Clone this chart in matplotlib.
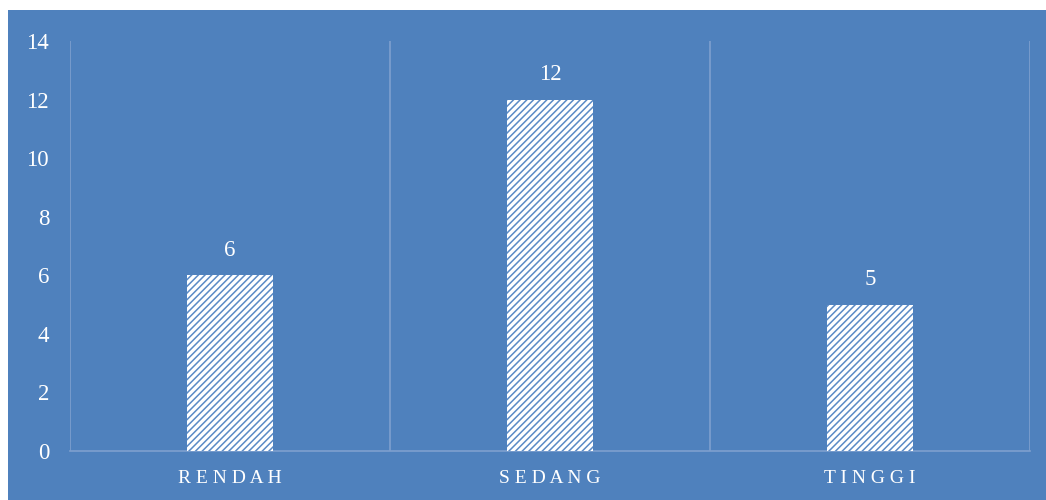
import matplotlib
matplotlib.use("Agg")
import matplotlib.pyplot as plt
from matplotlib.patches import Rectangle

categories = ["RENDAH", "SEDANG", "TINGGI"]
values = [6, 12, 5]
yticks = [0, 2, 4, 6, 8, 10, 12, 14]

BG = "#4F81BD"
GRID = "#7FA0CE"
HATCH = "#5A8AC6"

plt.rcParams['font.family'] = ['Liberation Serif', 'DejaVu Serif']
plt.rcParams['hatch.linewidth'] = 1.1

W, H = 1046, 500
fig = plt.figure(figsize=(W / 100, H / 100), dpi=100)
fig.patch.set_facecolor("white")
fig.patches.append(Rectangle((8 / W, 0), (W - 8) / W, 490 / H, transform=fig.transFigure,
                             facecolor=BG, edgecolor="none", zorder=-10))

ax = fig.add_axes([70 / W, 49 / H, 960 / W, 410 / H])
ax.set_facecolor("none")
ax.set_zorder(5)

x = list(range(len(categories)))
bars = ax.bar(x, values, width=0.27, color="white", edgecolor=HATCH, linewidth=0,
              hatch="/////", zorder=3)

for xi, v in zip(x, values):
    ax.text(xi, v + 0.5, str(v), ha="center", va="bottom", color="white", fontsize=16.5)

ax.set_xlim(-0.5, len(categories) - 0.5)
ax.set_ylim(0, 14)
ax.set_yticks(yticks)
ax.set_yticklabels([str(t) for t in yticks], color="white", fontsize=16.5)
ax.set_xticks(x)
ax.set_xticklabels([" ".join(c) for c in categories], color="white", fontsize=14)
ax.tick_params(axis="both", length=0)
ax.tick_params(axis="y", pad=15)
ax.tick_params(axis="x", pad=14)

for b in [-0.5, 0.5, 1.5, 2.5]:
    ax.axvline(b, color=GRID, linewidth=1.2, zorder=1)

for s in ["top", "right", "left"]:
    ax.spines[s].set_visible(False)
ax.spines["bottom"].set_color(GRID)
ax.spines["bottom"].set_linewidth(1.2)

fig.savefig("out.png", dpi=100)
